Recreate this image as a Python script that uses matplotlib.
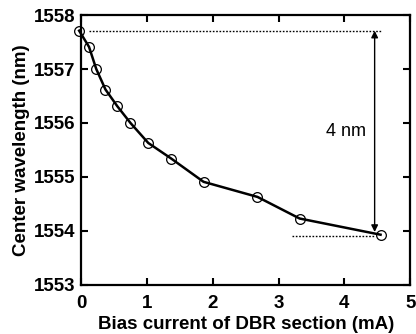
import matplotlib
matplotlib.use('Agg')
import matplotlib.pyplot as plt

plt.rcParams['font.family'] = ['Liberation Sans', 'DejaVu Sans']
plt.rcParams['font.weight'] = 'bold'

# measured points: bias current (mA) vs center wavelength (nm)
current = [-0.03, 0.12, 0.23, 0.37, 0.55, 0.75, 1.02, 1.37, 1.86, 2.68, 3.32, 4.55]
wavelength = [1557.71, 1557.41, 1557.0, 1556.62, 1556.31, 1556.0, 1555.63,
              1555.34, 1554.91, 1554.63, 1554.23, 1553.93]

xticks = [0, 1, 2, 3, 4, 5]
yticks = [1553, 1554, 1555, 1556, 1557, 1558]

fig = plt.figure(figsize=(4.16, 3.34), dpi=100)
ax = fig.add_axes([0.195, 0.147, 0.791, 0.808])

ax.plot(current, wavelength, color='black', lw=1.8, marker='o', ms=7,
        mfc='none', mec='black', mew=0.9, clip_on=False)

# dotted reference levels
ax.plot([0.12, 4.55], [wavelength[0], wavelength[0]], color='black',
        lw=1.0, ls=(0, (1.2, 1.2)))
ax.plot([3.2, 4.45], [wavelength[-1] - 0.03, wavelength[-1] - 0.03],
        color='black', lw=1.0, ls=(0, (1.2, 1.2)))

# span arrow
ax.annotate('', xy=(4.46, wavelength[0]), xytext=(4.46, wavelength[-1] + 0.05),
            arrowprops=dict(arrowstyle='<|-|>', color='black', lw=1.0,
                            mutation_scale=10, shrinkA=0, shrinkB=0))
ax.text(4.33, 1555.85, '4 nm', ha='right', va='center', fontsize=13,
        fontweight='normal')

ax.set_xlim(0, 5)
ax.set_ylim(1553, 1558)
ax.set_xticks(xticks)
ax.set_yticks(yticks)
ax.tick_params(direction='in', length=5, width=1.5, top=True, right=True,
               labelsize=13.5, pad=4)
ax.tick_params(axis='x', pad=7)
for s in ax.spines.values():
    s.set_linewidth(1.6)

ax.set_xlabel('Bias current of DBR section (mA)', fontsize=13.5,
              fontweight='bold', labelpad=3)
ax.set_ylabel('Center wavelength (nm)', fontsize=13.5, fontweight='bold',
              labelpad=3)

fig.savefig('out.png', dpi=100)
